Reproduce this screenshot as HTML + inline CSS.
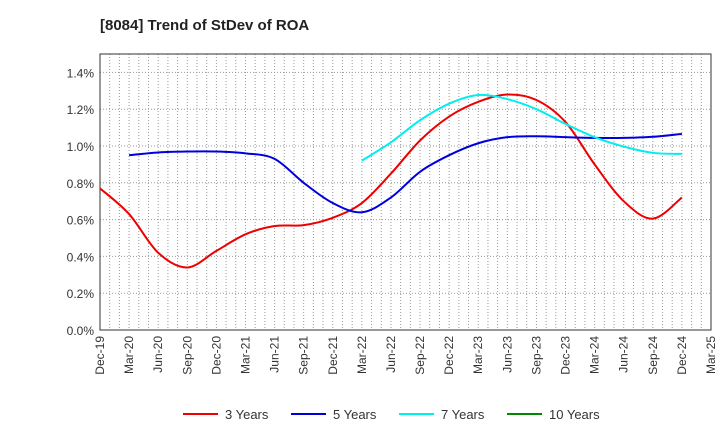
<!DOCTYPE html>
<html><head><meta charset="utf-8"><style>
body{margin:0;background:#fff;font-family:"Liberation Sans",sans-serif;}
svg{display:block}
</style></head><body>
<svg id="c" width="720" height="440">
<text x="100" y="30" font-size="15" font-weight="bold" fill="#222">[8084]  Trend of StDev of ROA</text>
<g id="grid"></g><g id="axes"></g><g id="series"></g><g id="legend"></g>
</svg>
<script>
const categories=["Dec-19","Mar-20","Jun-20","Sep-20","Dec-20","Mar-21","Jun-21","Sep-21","Dec-21","Mar-22","Jun-22","Sep-22","Dec-22","Mar-23","Jun-23","Sep-23","Dec-23","Mar-24","Jun-24","Sep-24","Dec-24","Mar-25"];
const yTicks=[0,0.2,0.4,0.6,0.8,1.0,1.2,1.4];
const s3=[0.77,0.63,0.42,0.34,0.43,0.52,0.565,0.57,0.61,0.69,0.85,1.03,1.16,1.24,1.28,1.25,1.13,0.90,0.70,0.605,0.72];
const s5=[null,0.95,0.965,0.97,0.97,0.96,0.93,0.80,0.69,0.64,0.72,0.86,0.95,1.015,1.048,1.053,1.048,1.044,1.044,1.05,1.066];
const s7=[null,null,null,null,null,null,null,null,null,0.92,1.02,1.14,1.23,1.277,1.255,1.20,1.12,1.048,0.997,0.963,0.957];
const s10=[];
const X0=100,X1=711,Y0=330,YT=54,YMAX=1.5;
const xs=i=>X0+i*(X1-X0)/(categories.length-1);
const ys=v=>Y0-v/YMAX*(Y0-YT);
const NS="http://www.w3.org/2000/svg";
function mk(p,t,a){const e=document.createElementNS(NS,t);for(const k in a)e.setAttribute(k,a[k]);p.appendChild(e);return e;}
const g=document.getElementById('grid'),ax=document.getElementById('axes'),sr=document.getElementById('series'),lg=document.getElementById('legend');
for(let m=1;m<(categories.length-1)*3;m++){const x=X0+m*(X1-X0)/((categories.length-1)*3);
const l=mk(g,'line',{x1:x,x2:x,y1:YT,y2:Y0,stroke:'#999','stroke-dasharray':'1,2','stroke-width':1});
}
yTicks.forEach(v=>{const y=ys(v);
const l=mk(g,'line',{x1:X0,x2:X1,y1:y,y2:y,stroke:'#999','stroke-dasharray':'1,2'});

const t=mk(ax,'text',{x:X0-6,y:y+5,'text-anchor':'end','font-size':12,fill:'#333'});t.textContent=v.toFixed(1)+'%';
});
const fr=mk(ax,'rect',{x:X0,y:YT,width:X1-X0,height:Y0-YT,fill:'none',stroke:'#333'});

categories.forEach((c,i)=>{const x=xs(i);
const t=mk(ax,'text',{transform:`translate(${x+4},${Y0+6}) rotate(-90)`,'text-anchor':'end','font-size':12,fill:'#333'});t.textContent=c;
});
function path(arr){const pts=[];arr.forEach((v,i)=>{if(v!=null)pts.push([xs(i),ys(v)]);});if(pts.length<2)return'';
let d=`M${pts[0][0]},${pts[0][1]}`;for(let i=0;i<pts.length-1;i++){const p0=pts[Math.max(0,i-1)],p1=pts[i],p2=pts[i+1],p3=pts[Math.min(pts.length-1,i+2)];
d+=` C${p1[0]+(p2[0]-p0[0])/6},${p1[1]+(p2[1]-p0[1])/6} ${p2[0]-(p3[0]-p1[0])/6},${p2[1]-(p3[1]-p1[1])/6} ${p2[0]},${p2[1]}`;}return d;}
const series=[[s3,'#ee0000','3 Years','line-3-years'],[s5,'#0000dd','5 Years','line-5-years'],[s7,'#00eeee','7 Years','line-7-years'],[s10,'#008800','10 Years','line-10-years']];
series.forEach(([a,col,name,dn],k)=>{const d=path(a);if(d){const p=mk(sr,'path',{d:d,fill:'none',stroke:col,'stroke-width':2});
}
const lx=[183,291,399,507][k];
const ge=mk(lg,'g',{});
mk(ge,'line',{x1:lx,x2:lx+35,y1:414,y2:414,stroke:col,'stroke-width':2});
const t=mk(ge,'text',{x:lx+42,y:419,'font-size':13,fill:'#333'});t.textContent=name;});
</script>
</body></html>
